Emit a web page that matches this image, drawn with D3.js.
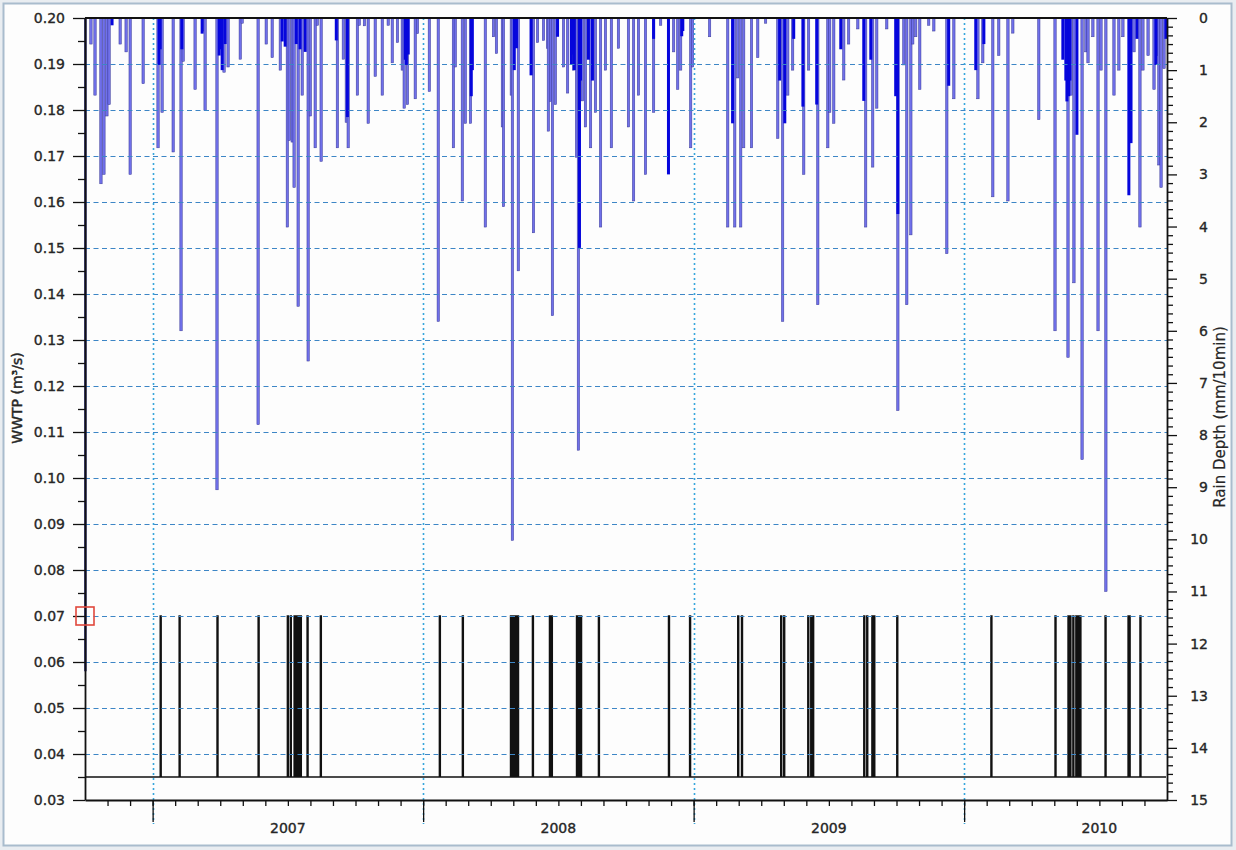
<!DOCTYPE html>
<html><head><meta charset="utf-8">
<script src="https://cdn.jsdelivr.net/npm/d3@7"></script>
<style>
html,body{margin:0;padding:0;background:#e9edf1;}
svg{display:block;}
text{font-family:"DejaVu Sans",sans-serif;fill:#262626;}
</style></head><body>
<svg id="c" width="1236" height="850"></svg>
<script>
// ---------- DATA (x values are decimal years) ----------
const timeDomain = [2006.75, 2010.75];
const years = [2007, 2008, 2009, 2010];
const flowTicks = d3.range(3, 21).map(v => v / 100);          // 0.03 .. 0.20
const rainTicks = d3.range(0, 16);                            // 0 .. 15

// Rain depth per 10 min (mm) - individual events [decimalYear, depth]
const rainEvents = [
[2006.772,0.50],[2006.787,1.48],[2006.809,3.18],[2006.820,3.00],[2006.831,1.88],[2006.839,1.66],[2006.880,0.50],[2006.902,0.65],[2006.917,3.00],[2006.965,1.26],
[2007.020,2.49],[2007.035,1.81],[2007.076,2.57],[2007.105,6.00],[2007.113,0.83],[2007.157,1.37],[2007.190,0.25],[2007.194,1.77],[2007.238,9.05],[2007.264,1.04],[2007.279,0.94],[2007.324,0.79],[2007.331,0.10],[2007.390,7.80],[2007.420,0.50],[2007.442,0.76],[2007.472,1.00],[2007.498,4.01],[2007.505,2.35],[2007.516,2.38],[2007.523,3.25],[2007.538,5.53],[2007.553,1.48],[2007.575,6.58],[2007.583,1.88],[2007.601,2.49],[2007.609,0.14],[2007.623,2.75],[2007.683,2.49],[2007.705,0.79],[2007.716,2.00],[2007.723,2.49],[2007.757,1.48],[2007.764,0.14],[2007.783,0.15],[2007.797,2.02],[2007.823,1.12],[2007.849,1.48],[2007.871,0.14],[2007.886,0.86],[2007.905,0.47],[2007.923,1.00],[2007.930,1.73],[2007.942,1.66],[2007.971,1.55],[2007.979,0.30],
[2008.023,1.41],[2008.056,5.82],[2008.112,2.49],[2008.119,0.94],[2008.145,3.51],[2008.156,2.02],[2008.175,2.02],[2008.230,4.01],[2008.260,0.36],[2008.271,0.68],[2008.293,2.09],[2008.297,3.62],[2008.326,1.48],[2008.330,10.02],[2008.352,4.85],[2008.404,1.08],[2008.408,4.12],[2008.423,0.47],[2008.445,0.43],[2008.460,0.58],[2008.463,2.17],[2008.471,1.60],[2008.478,5.71],[2008.489,1.66],[2008.519,0.94],[2008.534,1.44],[2008.556,1.00],[2008.567,2.67],[2008.574,8.29],[2008.589,1.59],[2008.600,2.09],[2008.619,2.49],[2008.637,1.81],[2008.656,4.01],[2008.674,1.00],[2008.696,2.49],[2008.722,0.58],[2008.759,2.09],[2008.778,3.51],[2008.796,1.48],[2008.822,3.00],[2008.852,1.81],[2008.878,0.14],[2008.926,0.65],[2008.941,1.37],[2008.952,1.00],[2008.989,2.49],[2008.996,0.94],
[2009.059,0.36],[2009.126,4.01],[2009.152,4.01],[2009.163,1.15],[2009.174,4.01],[2009.185,2.49],[2009.214,2.49],[2009.237,0.76],[2009.266,0.10],[2009.311,2.31],[2009.329,5.82],[2009.348,1.48],[2009.366,1.00],[2009.407,3.00],[2009.425,1.00],[2009.459,5.50],[2009.496,2.49],[2009.503,1.81],[2009.518,2.02],[2009.555,1.19],[2009.573,0.50],[2009.607,0.21],[2009.636,4.01],[2009.662,2.86],[2009.677,1.73],[2009.714,0.21],[2009.755,7.53],[2009.777,0.90],[2009.788,5.50],[2009.803,4.16],[2009.810,0.50],[2009.821,0.36],[2009.836,1.37],[2009.869,0.14],[2009.888,0.25],[2009.936,4.52],[2009.962,1.55],
[2010.051,1.55],[2010.069,0.86],[2010.106,3.43],[2010.128,0.72],[2010.162,3.51],[2010.180,0.29],[2010.276,1.95],[2010.336,6.00],[2010.384,6.51],[2010.395,1.48],[2010.406,5.08],[2010.436,8.47],[2010.450,0.65],[2010.458,0.86],[2010.476,0.36],[2010.495,6.00],[2010.506,1.00],[2010.524,11.00],[2010.554,1.48],[2010.572,1.00],[2010.587,0.36],[2010.628,0.65],[2010.650,4.01],[2010.661,1.00],[2010.680,0.72],[2010.702,1.37],[2010.717,0.72],[2010.720,2.82],[2010.728,3.25],[2010.739,0.97]
];

// Dense bursts of rain (many consecutive 10-min records) [decimalYear, depth]
const rainBursts = [
[2006.850,0.14],[2007.024,0.90],[2007.028,0.60],[2007.108,0.60],[2007.183,0.30],[2007.246,0.72],[2007.250,0.60],[2007.257,1.00],[2007.268,0.50],[2007.479,0.45],[2007.490,0.55],[2007.531,0.50],[2007.545,0.60],[2007.564,0.65],[2007.679,0.43],[2007.720,1.90],[2007.934,0.80],[2007.938,0.90],[2007.945,0.70],
[2008.178,1.50],[2008.182,1.00],[2008.337,1.00],[2008.345,0.58],[2008.399,1.10],[2008.497,0.36],[2008.548,0.90],[2008.552,0.70],[2008.559,1.00],[2008.578,4.41],[2008.582,1.20],[2008.611,0.80],[2008.626,1.20],[2008.852,0.40],[2008.907,3.00],[2008.956,0.35],[2008.960,0.25],
[2009.144,2.02],[2009.318,1.20],[2009.337,2.02],[2009.370,0.40],[2009.404,1.70],[2009.455,1.66],[2009.544,0.60],[2009.629,1.59],[2009.655,0.80],[2009.747,1.50],[2009.755,3.76],[2009.943,1.30],
[2010.043,1.00],[2010.073,0.50],[2010.365,0.80],[2010.376,1.20],[2010.380,1.60],[2010.387,1.50],[2010.391,1.20],[2010.417,2.24],[2010.609,3.40],[2010.617,2.40],[2010.639,0.40],[2010.709,0.90],[2010.746,0.40]
];

// WWTP flow (m3/s): baseline level and overflow pulse level, pulse times
const flowBase = 0.035;
const flowPulse = 0.07;
const pulseTimes = [2007.028,2007.098,2007.238,2007.390,2007.498,2007.509,2007.523,2007.527,2007.531,2007.534,2007.538,2007.542,2007.546,2007.571,2007.620,
2008.060,2008.145,2008.323,2008.328,2008.333,2008.337,2008.342,2008.349,2008.404,2008.467,2008.470,2008.474,2008.567,2008.571,2008.574,2008.578,2008.582,2008.648,2008.907,2008.985,
2009.163,2009.177,2009.322,2009.333,2009.422,2009.433,2009.440,2009.629,2009.640,2009.659,2009.666,2009.751,
2010.099,2010.336,2010.384,2010.391,2010.402,2010.413,2010.417,2010.421,2010.425,2010.428,2010.521,2010.606,2010.610,2010.650];
// initial WWTP record (vertical start-up trace)
const wwtpStart = [[2006.7515,0.205],[2006.7515,0.058]];
// selected point marker
const cursorPoint = [2006.75, 0.07];

// ---------- LAYOUT ----------
const W = 1236, H = 850;
const L = 85, R = 1167, T = 18, B = 800;
const svg = d3.select("#c");

svg.append("rect").attr("x",3.5).attr("y",3.5).attr("width",W-8).attr("height",H-8)
  .attr("fill","#fdfdfd").attr("stroke","#a9bccd").attr("stroke-width",2);

const x = d3.scaleLinear().domain(timeDomain).range([L, R]);
const yL = d3.scaleLinear().domain([0.03, 0.20]).range([B, T]);
const yR = d3.scaleLinear().domain([0, 15]).range([T, B]);

// ---------- PULSE LINE ----------
{
  const p = d3.path();
  p.moveTo(x(timeDomain[0]), yL(flowBase));
  pulseTimes.forEach(t => {
    const xt = x(t);
    p.lineTo(xt, yL(flowBase)); p.lineTo(xt, yL(flowPulse));
    p.lineTo(xt + 1, yL(flowPulse)); p.lineTo(xt + 1, yL(flowBase));
  });
  p.lineTo(x(timeDomain[1]) - 1, yL(flowBase));
  svg.append("path").attr("d", p.toString()).attr("fill","none")
    .attr("stroke","#111").attr("stroke-width",1.4);
}

// ---------- RAIN BARS ----------
svg.append("g").selectAll("rect").data(rainEvents).join("rect")
  .attr("x", d => x(d[0]) - 1.2).attr("width", 2.4)
  .attr("y", yR(0)).attr("height", d => yR(d[1]) - yR(0))
  .attr("fill","#7070ea").attr("stroke","#383896").attr("stroke-width",0.5);

svg.append("g").selectAll("rect").data(rainBursts).join("rect")
  .attr("x", d => x(d[0]) - 1.5).attr("width", 3)
  .attr("y", yR(0)).attr("height", d => yR(d[1]) - yR(0))
  .attr("fill","#0606dc");

// ---------- GRID ----------
const grid = svg.append("g");
grid.selectAll("line.h").data(flowTicks.filter(v => v > 0.035 && v < 0.195)).join("line")
  .attr("x1", L).attr("x2", R).attr("y1", d => Math.round(yL(d)) + 0.5).attr("y2", d => Math.round(yL(d)) + 0.5)
  .attr("stroke","#3d86c6").attr("stroke-width",1.2).attr("stroke-dasharray","5,3.5");
grid.selectAll("line.v").data(years).join("line")
  .attr("x1", d => Math.round(x(d)) + 0.5).attr("x2", d => Math.round(x(d)) + 0.5)
  .attr("y1", T).attr("y2", B + 24)
  .attr("stroke","#37a6dc").attr("stroke-width",1.6).attr("stroke-dasharray","2,3");

// ---------- WWTP start trace ----------
svg.append("path").datum(wwtpStart)
  .attr("d", d3.line().x(d => x(d[0])).y(d => yL(Math.min(d[1], 0.20))))
  .attr("fill","none").attr("stroke","#1c1c6e").attr("stroke-width",2.4);

// ---------- AXES ----------
function styleAxis(g){
  g.selectAll(".domain").attr("stroke","#111").attr("stroke-width",1.8);
  g.selectAll(".tick line").attr("stroke","#111").attr("stroke-width",1.3);
  g.selectAll("text").attr("font-size",14).attr("font-family","DejaVu Sans, sans-serif")
    .attr("fill","#262626").attr("stroke","#262626").attr("stroke-width",0.35);
}
// left
const gl = svg.append("g").attr("transform",`translate(${L},0)`)
  .call(d3.axisLeft(yL).tickValues(flowTicks).tickFormat(d3.format(".2f")).tickSize(12).tickPadding(8).tickSizeOuter(0));
styleAxis(gl);
const glm = svg.append("g").attr("transform",`translate(${L},0)`)
  .call(d3.axisLeft(yL).tickValues(flowTicks.slice(0,-1).map(v => v + 0.005)).tickFormat("").tickSize(7).tickSizeOuter(0));
glm.select(".domain").remove(); styleAxis(glm);
// right
const gr = svg.append("g").attr("transform",`translate(${R},0)`)
  .call(d3.axisRight(yR).tickValues(rainTicks).tickSize(10).tickSizeOuter(0));
styleAxis(gr);
gr.selectAll("text").attr("text-anchor","end").attr("x",41);
const grm = svg.append("g").attr("transform",`translate(${R},0)`)
  .call(d3.axisRight(yR).tickValues(d3.range(0, 90).filter(i => i % 6 !== 0).map(i => i / 6)).tickFormat("").tickSize(6).tickSizeOuter(0));
grm.select(".domain").remove(); styleAxis(grm);
// bottom
const months = d3.range(0, 49).map(i => timeDomain[0] + i / 12).filter(v => v > timeDomain[0] + 0.01 && v < timeDomain[1] - 0.01);
const gbm = svg.append("g").attr("transform",`translate(0,${B})`)
  .call(d3.axisBottom(x).tickValues(months).tickFormat("").tickSize(6).tickSizeOuter(0));
styleAxis(gbm);
const gb = svg.append("g").attr("transform",`translate(0,${B})`)
  .call(d3.axisBottom(x).tickValues(years).tickFormat("").tickSize(22).tickSizeOuter(0));
gb.select(".domain").remove(); styleAxis(gb);
svg.append("g").selectAll("text").data(years).join("text")
  .attr("x", d => x(d + 0.5)).attr("y", 833).attr("text-anchor","middle")
  .attr("font-size",14).attr("stroke","#262626").attr("stroke-width",0.35).text(d => d);

// top frame
svg.append("line").attr("x1",L).attr("x2",R).attr("y1",T).attr("y2",T)
  .attr("stroke","#111").attr("stroke-width",1.8);

// axis titles
svg.append("text").attr("transform","translate(22,398) rotate(-90)").attr("text-anchor","middle")
  .attr("font-size",14).attr("stroke","#262626").attr("stroke-width",0.45).text("WWTP (m³/s)");
svg.append("text").attr("transform","translate(1225,417) rotate(-90)").attr("text-anchor","middle")
  .attr("font-size",15).attr("stroke","#262626").attr("stroke-width",0.2).text("Rain Depth (mm/10min)");

// cursor marker
svg.append("rect").attr("x", x(cursorPoint[0]) - 9).attr("y", yL(cursorPoint[1]) - 9)
  .attr("width",18).attr("height",18).attr("fill","none")
  .attr("stroke","#e0483c").attr("stroke-width",1.6);
</script>
</body></html>
